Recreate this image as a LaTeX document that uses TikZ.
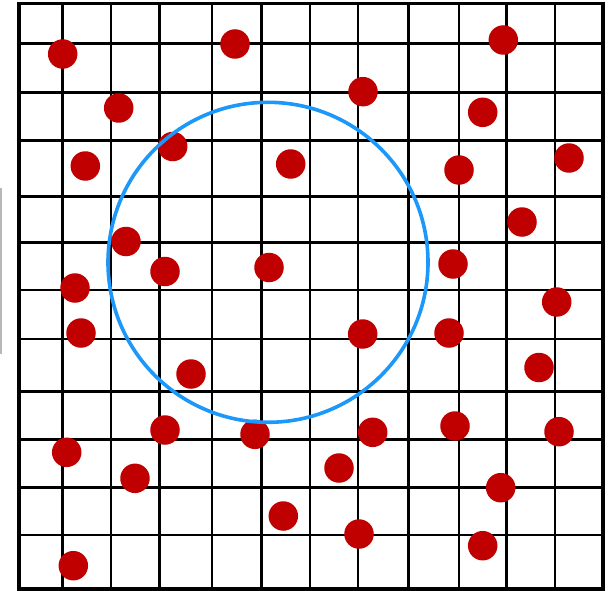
\documentclass[tikz,border=0pt]{standalone}
\definecolor{dotred}{RGB}{192,0,0}
\definecolor{ringblue}{RGB}{28,152,250}
\begin{document}
\begin{tikzpicture}[x=1pt,y=-1pt,
  dot/.style={circle,fill=dotred,inner sep=0pt,minimum size=29.5pt},
  gridline/.style={line width=2.6pt},
  frame/.style={line width=3.8pt},
  ring/.style={draw=ringblue,line width=3.6pt},
  faint/.style={line width=1.5pt,draw=black!28}]
\useasboundingbox (0,0) rectangle (610,591);
\fill[white] (0,0) rectangle (610,591);
\draw[faint] (0.8,188) -- (0.8,354);
\foreach \x in {62.7,111,159.3,212,261.5,310,358,408.5,459,506.7,555}
  \draw[gridline] (\x,4) -- (\x,589);
\foreach \y in {43.3,92.3,140.7,196.7,242.7,290,339,391.7,439.3,487.3,535}
  \draw[gridline] (19,\y) -- (603,\y);
\draw[frame] (19,3.5) rectangle (603.3,589);
\foreach \p [count=\i] in {(62.7,54),(235,44),(503.3,40),(118.7,108),(363,91.7),(482.7,112.3),
  (172.7,146.5),(85.3,166),(290.7,164),(459,170),(569,158),(522,222),
  (126,241.5),(165,271.5),(269,267.5),(453,264),(75,288),(556.7,302),
  (81,333),(362.7,334),(449,333),(539,367.5),(191,374),(165,430),
  (255,434.3),(372.7,432.3),(455,426),(559,431.7),(66.7,452.3),(135,478.3),
  (339,468),(500.7,487.7),(283.3,516),(359,534),(482.7,545.7),(73.3,565.7)}
  \node[dot] (d\i) at \p {};
\draw[ring] (268,262.3) circle[radius=160pt];
\end{tikzpicture}
\end{document}
